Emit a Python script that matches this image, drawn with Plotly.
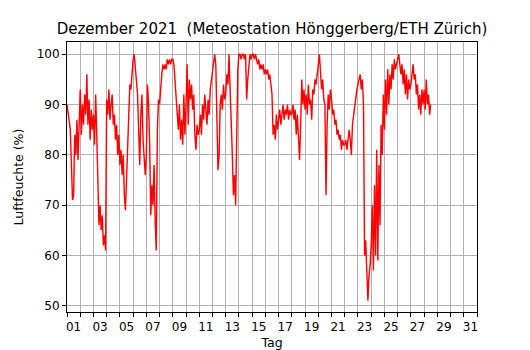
import pandas as pd
import plotly.graph_objects as go

# Relative humidity (%), 2-hourly samples, one row per day (Dec 1 .. Dec 28 noon)
day01 = [90, 88, 86, 85, 78, 71, 72, 84, 80, 87, 79, 86]
day02 = [93, 84, 90, 86, 92, 88, 96, 86, 91, 83, 89, 85]
day03 = [88, 82, 92, 84, 72, 66, 70, 65, 68, 62, 64, 61]
day04 = [91, 88, 93, 87, 90, 92, 86, 88, 83, 86, 80, 84]
day05 = [78, 81, 76, 80, 72, 69, 75, 82, 90, 94, 93, 97]
day06 = [99, 100, 97, 95, 92, 85, 78, 88, 92, 83, 80, 76]
day07 = [80, 94, 90, 82, 68, 74, 70, 78, 67, 61, 85, 91]
day08 = [90, 94, 96, 98, 97, 98, 97, 99, 98, 99, 98, 99]
day09 = [99, 98, 95, 92, 88, 85, 90, 83, 87, 82, 92, 84]
day10 = [90, 98, 86, 95, 91, 94, 89, 92, 84, 81, 86, 84]
day11 = [85, 88, 84, 90, 87, 92, 89, 86, 91, 88, 93, 95]
day12 = [96, 99, 100, 98, 88, 77, 80, 90, 92, 89, 94, 91]
day13 = [92, 96, 94, 100, 93, 88, 80, 72, 76, 70, 88, 97]
day14 = [100, 100, 99, 100, 100, 99, 100, 91, 95, 98, 100, 99]
day15 = [100, 100, 99, 100, 99, 98, 99, 97, 98, 97, 98, 96]
day16 = [97, 96, 97, 95, 96, 94, 92, 84, 86, 83, 88, 85]
day17 = [87, 89, 86, 88, 90, 87, 89, 88, 90, 87, 89, 88]
day18 = [88, 90, 87, 89, 84, 88, 82, 79, 86, 95, 90, 93]
day19 = [89, 92, 88, 94, 90, 91, 87, 93, 92, 95, 94, 97]
day20 = [98, 100, 97, 93, 95, 91, 90, 72, 86, 92, 89, 93]
day21 = [91, 88, 89, 86, 87, 84, 85, 83, 84, 81, 83, 82]
day22 = [82, 83, 81, 84, 85, 83, 80, 86, 88, 89, 91, 93]
day23 = [94, 95, 96, 93, 95, 90, 60, 63, 57, 51, 56, 58]
day24 = [62, 70, 57, 74, 60, 81, 59, 78, 66, 86, 80, 92]
day25 = [85, 95, 88, 97, 90, 96, 93, 98, 95, 99, 97, 98]
day26 = [99, 100, 98, 96, 98, 94, 97, 92, 96, 91, 95, 93]
day27 = [94, 97, 98, 95, 96, 92, 94, 89, 92, 88, 93, 90]
day28 = [93, 89, 95, 90, 92, 88, 90]

days = [day01, day02, day03, day04, day05, day06, day07, day08, day09, day10,
        day11, day12, day13, day14, day15, day16, day17, day18, day19, day20,
        day21, day22, day23, day24, day25, day26, day27, day28]
humidity = [v for d in days for v in d]
times = pd.date_range("2021-12-01 00:00", periods=len(humidity), freq="2h")

tick_labels = ["%02d" % d for d in range(1, 32, 2)]
tick_pos = [pd.Timestamp(2021, 12, d, 12) for d in range(1, 32, 2)]
day_bounds = list(pd.date_range("2021-12-01", "2022-01-01", freq="D"))
y_ticks = [50, 60, 70, 80, 90, 100]

fig = go.Figure(go.Scatter(x=times, y=humidity, mode="lines",
                           line=dict(color="#ff0000", width=1.4),
                           hoverinfo="skip", showlegend=False))

# The page body adds an 8 px offset; the figure is sized to fit inside it.
W, H = 522, 342
font = dict(family="DejaVu Sans", size=12, color="black")
lab_font = dict(family="DejaVu Sans", size=12.5, color="black")
fig.update_layout(
    width=W, height=H,
    margin=dict(l=59, r=53, t=34, b=38, autoexpand=False),
    paper_bgcolor="white", plot_bgcolor="white",
    font=font,
    title=dict(text="Dezember 2021  (Meteostation Hönggerberg/ETH Zürich)",
               x=264 / W, xanchor="center", y=1 - 21 / H, yanchor="middle",
               font=dict(family="DejaVu Sans", size=15, color="black")),
    xaxis=dict(type="date", range=["2021-12-01", "2022-01-01"], automargin=False,
               tickmode="array", tickvals=tick_pos, ticktext=tick_labels,
               ticks="outside", ticklen=4, tickcolor="rgba(0,0,0,0)",
               showgrid=False, zeroline=False,
               showline=True, linecolor="black", linewidth=1, mirror=True,
               minor=dict(tickmode="array", tickvals=day_bounds, ticks="outside",
                          ticklen=4, tickcolor="black", tickwidth=1,
                          showgrid=True, gridcolor="#b0b0b0", gridwidth=1),
               title=dict(text="Tag", standoff=6, font=lab_font)),
    yaxis=dict(range=[48.76, 102.44], tickmode="array", tickvals=y_ticks, automargin=False,
               ticks="outside", ticklen=4, tickcolor="black",
               showgrid=True, gridcolor="#b0b0b0", gridwidth=1, zeroline=False,
               showline=True, linecolor="black", linewidth=1, mirror=True,
               title=dict(text="Luftfeuchte (%)", standoff=10, font=lab_font)),
)

fig.write_html("out.html")
